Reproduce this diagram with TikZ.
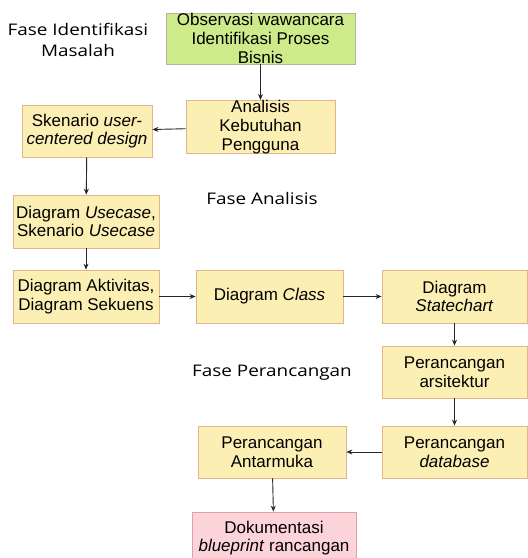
\documentclass[tikz,border=0pt]{standalone}
\usepackage{fontspec}
\setmainfont{Liberation Sans}
\newfontfamily\fasefont[FakeStretch=1.18]{Open Sans}
\usetikzlibrary{arrows.meta}
\definecolor{kuning}{HTML}{FCEFB4}
\definecolor{kuningtepi}{HTML}{E3B58E}
\definecolor{hijau}{HTML}{CDEB8B}
\definecolor{hijautepi}{HTML}{B4B49C}
\definecolor{merah}{HTML}{FDD3DA}
\definecolor{merahtepi}{HTML}{E3A0A0}

\begin{document}
\begin{tikzpicture}[x=1pt,y=-1pt,
  kotak/.style={draw=kuningtepi,fill=kuning,line width=0.8pt,align=center,
    inner sep=0pt,minimum height=52pt,font=\fontsize{17}{18.7}\selectfont},
  fase/.style={align=center,font=\fasefont\fontsize{16}{20.5}\selectfont},
  panah/.style={-{Stealth[length=6pt,width=5pt]},line width=0.9pt,black!85}]
\useasboundingbox (0,0) rectangle (528,558);
\node[fase] (f1) at (78,40) {Fase Identifikasi\\Masalah};
\node[fase] (f2) at (262,198) {Fase Analisis};
\node[fase] (f3) at (272,373) {Fase Perancangan};
\node[kotak,draw=hijautepi,fill=hijau,minimum width=189pt,minimum height=51pt] (obs) at (260.5,38.5) {Observasi wawancara\\Identifikasi Proses\\Bisnis};
\node[kotak,minimum width=149pt] (ana) at (260.5,127) {Analisis\\Kebutuhan\\Pengguna};
\node[kotak,minimum width=130pt] (sken) at (87,131) {Skenario \textit{user-}\\\textit{centered design}};
\node[kotak,minimum width=146pt,minimum height=53pt] (usec) at (86,221.5) {Diagram \textit{Usecase},\\Skenario \textit{Usecase}};
\node[kotak,minimum width=146pt,minimum height=53pt] (akt) at (86,296.5) {Diagram Aktivitas,\\Diagram Sekuens};
\node[kotak,minimum width=147pt,minimum height=53pt] (cls) at (269.5,296.5) {Diagram \textit{Class}};
\node[kotak,minimum width=145pt,minimum height=53pt] (state) at (454.5,296.5) {Diagram\\\textit{Statechart}};
\node[kotak,minimum width=145pt] (arsi) at (454.5,372) {Perancangan\\arsitektur};
\node[kotak,minimum width=145pt] (db) at (454.5,452) {Perancangan\\\textit{database}};
\node[kotak,minimum width=148pt] (antar) at (272,452) {Perancangan\\Antarmuka};
\node[kotak,draw=merahtepi,fill=merah,minimum width=164pt] (dok) at (274,538) {Dokumentasi\\\textit{blueprint} rancangan};
\path[panah] (obs) edge (ana) (ana) edge (sken) (sken) edge (usec) (usec) edge (akt);
\path[panah] (akt) edge (cls) (cls) edge (state) (state) edge (arsi) (arsi) edge (db);
\path[panah] (db) edge (antar) (antar) edge (dok);
\end{tikzpicture}
\end{document}
